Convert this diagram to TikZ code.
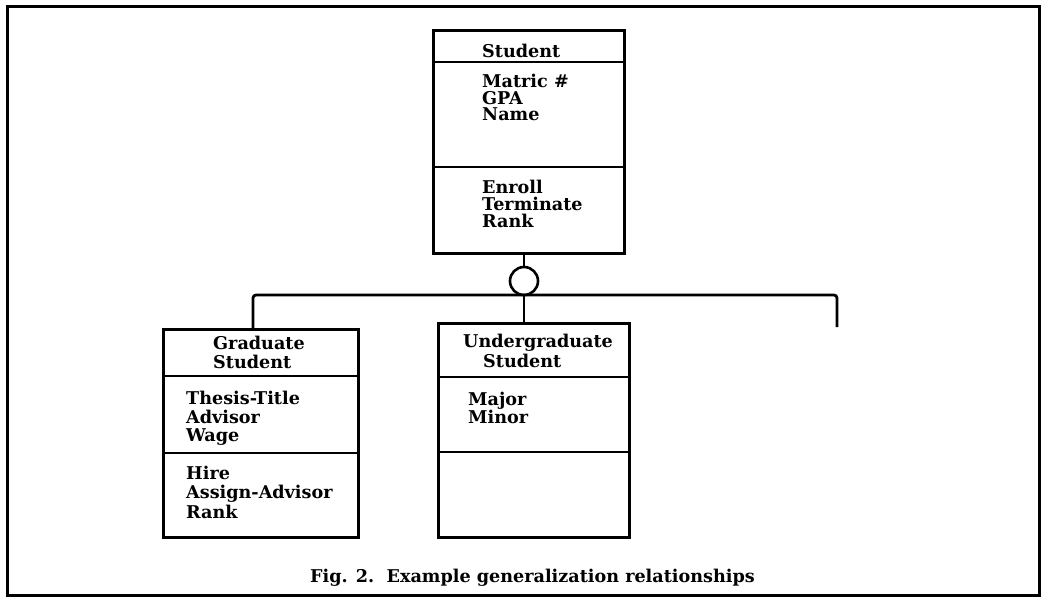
\documentclass[tikz,border=0pt]{standalone}
\usepackage{fontspec}
\setmainfont{DejaVu Serif}
\usetikzlibrary{calc}
\begin{document}
\begin{tikzpicture}[x=1pt,y=-1pt,
  box/.style={draw,line width=3pt,inner sep=0pt,anchor=north west},
  sep/.style={line width=2.4pt},
  conn/.style={line width=2.8pt},
  txt/.style={anchor=base west,inner sep=0pt,font=\bfseries\fontsize{17.6}{17}\selectfont}]
\useasboundingbox (0,0) rectangle (1045,597);
\node[draw,line width=2.8pt,minimum width=1032pt,minimum height=589pt,anchor=north west,inner sep=0pt] (frame) at (6,5) {};
% Student
\node[box,minimum width=191pt,minimum height=223pt] (stud) at (432,29) {};
\draw[sep] ([yshift=-33pt]stud.north west) -- ([yshift=-33pt]stud.north east);
\draw[sep] ([yshift=-138pt]stud.north west) -- ([yshift=-138pt]stud.north east);
\node[txt] (s0) at (482,57) {Student};
\node[txt] (s1) at (482,87) {Matric \#};
\node[txt] (s2) at (482,104) {GPA};
\node[txt] (s3) at (482,120) {Name};
\node[txt] (s4) at (482,193) {Enroll};
\node[txt] (s5) at (482,210) {Terminate};
\node[txt] (s6) at (482,227) {Rank};
% Graduate
\node[box,minimum width=195pt,minimum height=208pt] (grad) at (162,328) {};
\draw[sep] ([yshift=-48pt]grad.north west) -- ([yshift=-48pt]grad.north east);
\draw[sep] ([yshift=-125pt]grad.north west) -- ([yshift=-125pt]grad.north east);
\node[txt] (g0) at (213,349) {Graduate};
\node[txt] (g1) at (213,368) {Student};
\node[txt] (g2) at (186,404) {Thesis-Title};
\node[txt] (g3) at (186,423) {Advisor};
\node[txt] (g4) at (186,441) {Wage};
\node[txt] (g5) at (186,479) {Hire};
\node[txt] (g6) at (186,498) {Assign-Advisor};
\node[txt] (g7) at (186,518) {Rank};
% Undergraduate
\node[box,minimum width=191pt,minimum height=214pt] (ugrad) at (437,322) {};
\draw[sep] ([yshift=-55pt]ugrad.north west) -- ([yshift=-55pt]ugrad.north east);
\draw[sep] ([yshift=-130pt]ugrad.north west) -- ([yshift=-130pt]ugrad.north east);
\node[txt] (u0) at (463,347) {Undergraduate};
\node[txt] (u1) at (483,367) {Student};
\node[txt] (u2) at (468,405) {Major};
\node[txt] (u3) at (468,423) {Minor};
% generalization
\node[draw,circle,line width=2.6pt,minimum size=28pt,inner sep=0pt] (gen) at (524,281) {};
\coordinate (hl) at (253,295);
\coordinate (hr) at (837,295);
\coordinate (rend) at (837,327);
\draw[conn] (gen.north |- stud.south) -- (gen.north);
\draw[conn,rounded corners=3pt] (hl |- grad.north) -- (hl) -- (hr) -- (rend);
\draw[conn] (gen.south) -- (gen.south |- ugrad.north);
% caption
\node[txt] (cap) at (310,582) {Fig. 2.\ \ Example generalization relationships};
\end{tikzpicture}
\end{document}
